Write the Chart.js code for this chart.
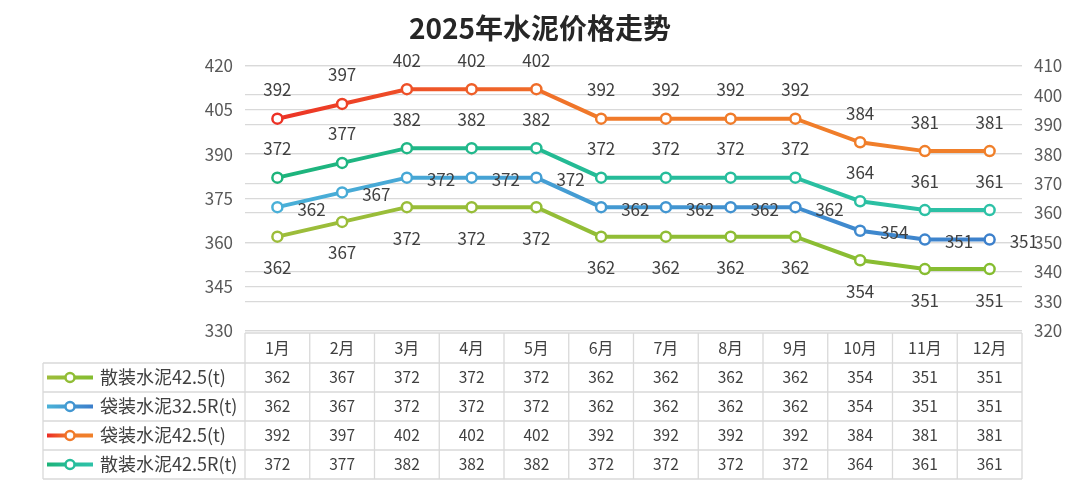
<!DOCTYPE html>
<html lang="zh">
<head>
<meta charset="utf-8">
<title>2025年水泥价格走势</title>
<script src="https://cdn.jsdelivr.net/npm/chart.js@4.4.1/dist/chart.umd.min.js"></script>
<style>
  html, body { margin: 0; padding: 0; background: #fff; }
  #wrap { width: 1080px; height: 493px; position: relative; }
</style>
</head>
<body>
<div id="wrap"><canvas id="priceChart"></canvas></div>
<script>
// Chart data
const months = ["1月", "2月", "3月", "4月", "5月", "6月", "7月", "8月", "9月", "10月", "11月", "12月"];
const seriesNames = ["散装水泥42.5(t)", "袋装水泥32.5R(t)", "袋装水泥42.5(t)", "散装水泥42.5R(t)"];
const bulk425 = [362, 367, 372, 372, 372, 362, 362, 362, 362, 354, 351, 351];
const bag325R = [362, 367, 372, 372, 372, 362, 362, 362, 362, 354, 351, 351];
const bag425 = [392, 397, 402, 402, 402, 392, 392, 392, 392, 384, 381, 381];
const bulk425R = [372, 377, 382, 382, 382, 372, 372, 372, 372, 364, 361, 361];

const FONT = '"Noto Sans CJK SC", "Noto Sans", sans-serif';
const TEXT = "#404040";
const GRID = "#D9D9D9";

// horizontal gradient across the plot area
function makeGradient(ctx, left, right, stops) {
  const g = ctx.createLinearGradient(left, 0, right, 0);
  stops.forEach(([pos, color]) => g.addColorStop(pos, color));
  return g;
}

function lineGradient(stops) {
  return function (context) {
    const { ctx, chartArea } = context.chart;
    if (!chartArea) return stops[0][1];
    return makeGradient(ctx, chartArea.left, chartArea.right, stops);
  };
}

const greenStops = [[0, "#9EBD3B"], [1, "#84BD30"]];
const blueStops = [[0, "#4AB2D8"], [1, "#3C7ECB"]];
const redStops = [[0, "#EC2B25"], [0.45, "#F07A2A"], [1, "#F0802A"]];
const tealStops = [[0, "#1CB378"], [0.5, "#26BC9A"], [1, "#2EC2A8"]];

function series(label, data, stops, axis, labelPos) {
  const grad = lineGradient(stops);
  return {
    label: label,
    data: data,
    yAxisID: axis,
    labelPos: labelPos,
    stops: stops,
    borderColor: grad,
    borderWidth: 4,
    pointRadius: 5,
    pointBorderWidth: 2.5,
    pointBackgroundColor: "#fff",
    pointBorderColor: grad,
    tension: 0,
  };
}

// value labels next to each point
const pointLabels = {
  id: "pointLabels",
  afterDatasetsDraw(chart) {
    const ctx = chart.ctx;
    ctx.save();
    ctx.font = "17px " + FONT;
    ctx.fillStyle = TEXT;
    ctx.textBaseline = "middle";
    chart.data.datasets.forEach((ds, i) => {
      const meta = chart.getDatasetMeta(i);
      meta.data.forEach((pt, j) => {
        const v = String(ds.data[j]);
        if (ds.labelPos === "right") {
          ctx.textAlign = "left";
          ctx.fillText(v, pt.x + 20, pt.y + 2);
        } else if (ds.labelPos === "below") {
          ctx.textAlign = "center";
          ctx.fillText(v, pt.x, pt.y + 31);
        } else {
          ctx.textAlign = "center";
          ctx.fillText(v, pt.x, pt.y - 29);
        }
      });
    });
    ctx.restore();
  },
};

// data table under the plot, Excel style
const dataTable = {
  id: "dataTable",
  afterDraw(chart) {
    const { ctx, chartArea, scales } = chart;
    const left = chartArea.left;
    const right = chartArea.right;
    const legendLeft = 43;
    const top = chartArea.bottom + 2;
    const headH = 30;
    const rowH = 29;
    const cellW = (right - left) / months.length;
    const datasets = chart.data.datasets;
    const bottom = top + headH + rowH * datasets.length;

    ctx.save();
    ctx.strokeStyle = GRID;
    ctx.lineWidth = 1.3;
    ctx.beginPath();
    ctx.moveTo(left, top);
    ctx.lineTo(right, top);
    for (let r = 0; r <= datasets.length; r++) {
      const y = top + headH + r * rowH;
      ctx.moveTo(legendLeft, y);
      ctx.lineTo(right, y);
    }
    ctx.moveTo(legendLeft, top + headH);
    ctx.lineTo(legendLeft, bottom);
    for (let k = 0; k <= months.length; k++) {
      const x = left + k * cellW;
      ctx.moveTo(x, top);
      ctx.lineTo(x, bottom);
    }
    ctx.stroke();

    ctx.fillStyle = TEXT;
    ctx.textBaseline = "middle";
    ctx.textAlign = "center";
    ctx.font = "16px " + FONT;
    months.forEach((m, j) => {
      ctx.fillText(m, scales.x.getPixelForValue(j), top + headH / 2);
    });

    datasets.forEach((ds, i) => {
      const cy = top + headH + i * rowH + rowH / 2;
      ctx.fillStyle = TEXT;
      ctx.textAlign = "center";
      ctx.font = "15.5px " + FONT;
      ds.data.forEach((v, j) => {
        ctx.fillText(String(v), scales.x.getPixelForValue(j), cy);
      });

      // legend key: short line with a hollow marker
      const g = makeGradient(ctx, 47, 93, ds.stops);
      ctx.strokeStyle = g;
      ctx.lineWidth = 4;
      ctx.beginPath();
      ctx.moveTo(47, cy);
      ctx.lineTo(93, cy);
      ctx.stroke();
      ctx.beginPath();
      ctx.arc(70, cy, 4.5, 0, Math.PI * 2);
      ctx.fillStyle = "#fff";
      ctx.fill();
      ctx.lineWidth = 2.5;
      ctx.stroke();

      ctx.fillStyle = TEXT;
      ctx.textAlign = "left";
      ctx.font = "18px " + FONT;
      ctx.fillText(ds.label, 100, cy);
    });
    ctx.restore();
  },
};

const ctx = document.getElementById("priceChart").getContext("2d");

new Chart(ctx, {
  type: "line",
  data: {
    labels: months,
    datasets: [
      series(seriesNames[0], bulk425, greenStops, "y", "below"),
      series(seriesNames[1], bag325R, blueStops, "y1", "right"),
      series(seriesNames[2], bag425, redStops, "y1", "above"),
      series(seriesNames[3], bulk425R, tealStops, "y1", "above"),
    ],
  },
  options: {
    responsive: true,
    maintainAspectRatio: false,
    animation: false,
    events: [],
    layout: { padding: { top: 0, bottom: 162, left: 0, right: 0 } },
    plugins: {
      legend: { display: false },
      tooltip: { enabled: false },
      title: {
        display: true,
        text: "2025年水泥价格走势",
        color: "#262626",
        font: { family: FONT, size: 28, weight: "bold" },
        padding: { top: 12, bottom: 20 },
      },
    },
    scales: {
      x: { display: false, offset: true },
      y: {
        position: "left",
        min: 330,
        max: 420,
        ticks: { stepSize: 15, color: "#595959", padding: 12, font: { family: FONT, size: 17 } },
        grid: { color: GRID, lineWidth: 1.3, drawTicks: false },
        border: { display: false },
        afterFit(scale) { scale.width = 245; },
      },
      y1: {
        position: "right",
        min: 320,
        max: 410,
        ticks: { stepSize: 10, color: "#595959", padding: 12, font: { family: FONT, size: 17 } },
        grid: { color: GRID, lineWidth: 1.3, drawTicks: false },
        border: { display: false },
        afterFit(scale) { scale.width = 58; },
      },
    },
  },
  plugins: [pointLabels, dataTable],
});
</script>
</body>
</html>
